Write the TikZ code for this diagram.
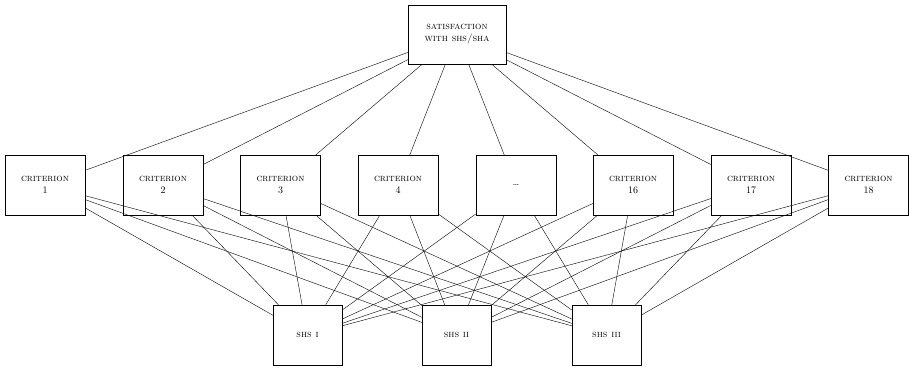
\documentclass[tikz,border=0pt]{standalone}
\usepackage{tikz}

\tikzset{
  critbox/.style={draw, minimum width=80pt, minimum height=60pt, align=center, inner sep=2pt},
  goalbox/.style={draw, minimum width=98pt, minimum height=59pt, align=center, inner sep=2pt},
  altbox/.style={draw, minimum width=69pt, minimum height=60pt, align=center, inner sep=2pt},
}

\begin{document}
\begin{tikzpicture}[x=1pt, y=1pt]
  \useasboundingbox (0,0) rectangle (909,368);

  % goal
  \node[goalbox] (goal) at (457, 333.5) {\textsc{satisfaction}\\\textsc{with shs/sha}};

  % criteria
  \node[critbox] (c1)  at (45, 183)    {\textsc{criterion}\\1};
  \node[critbox] (c2)  at (163, 183)   {\textsc{criterion}\\2};
  \node[critbox] (c3)  at (280.5, 183) {\textsc{criterion}\\3};
  \node[critbox] (c4)  at (398, 183)   {\textsc{criterion}\\4};
  \node[critbox] (cx)  at (516, 183)   {\dots};
  \node[critbox] (c16) at (633, 183)   {\textsc{criterion}\\16};
  \node[critbox] (c17) at (751, 183)   {\textsc{criterion}\\17};
  \node[critbox] (c18) at (868.5, 183) {\textsc{criterion}\\18};

  % alternatives
  \node[altbox] (s1) at (307.5, 33) {\textsc{shs i}};
  \node[altbox] (s2) at (456.5, 33) {\textsc{shs ii}};
  \node[altbox] (s3) at (606.5, 33) {\textsc{shs iii}};

  \foreach \c in {c1,c2,c3,c4,cx,c16,c17,c18} {
    \draw (goal) -- (\c);
    \foreach \s in {s1,s2,s3}
      \draw (\c) -- (\s);
  }
\end{tikzpicture}
\end{document}
